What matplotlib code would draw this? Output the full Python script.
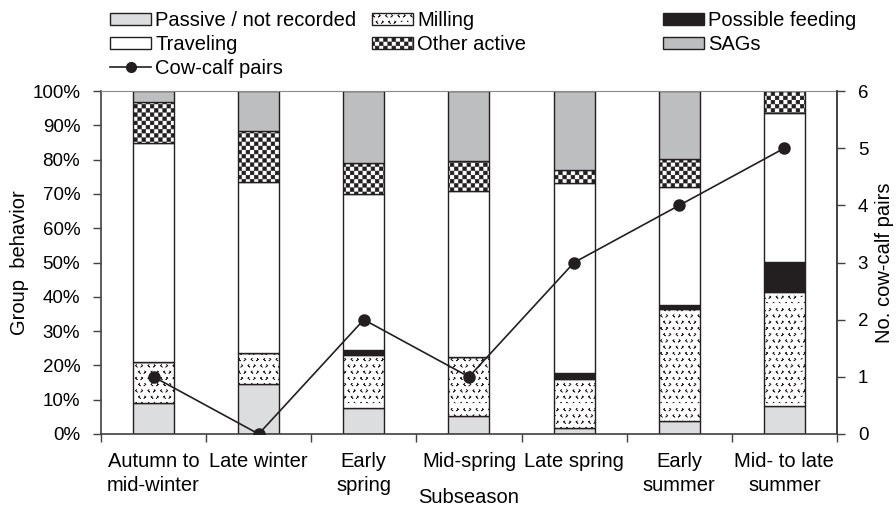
import numpy as np
import matplotlib
matplotlib.use("Agg")

import matplotlib.pyplot as plt
from matplotlib import hatch as mhatch
from matplotlib.path import Path
from matplotlib.lines import Line2D
from matplotlib.patches import Patch

subseasons = ["Autumn to\nmid-winter", "Late winter", "Early\nspring", "Mid-spring",
              "Late spring", "Early\nsummer", "Mid- to late\nsummer"]

# group behaviour, % of observations (stacked bottom -> top)
passive = [8.9, 14.6, 7.5, 5.2, 1.7, 3.9, 8.2]
milling = [12.2, 8.9, 15.5, 17.3, 14.2, 32.5, 33.3]
feeding = [0.0, 0.0, 1.5, 0.0, 2.0, 1.3, 8.6]
traveling = [63.7, 50.1, 45.5, 48.3, 55.2, 34.4, 43.6]
other_active = [12.0, 14.7, 8.9, 8.9, 3.9, 8.2, 6.3]
sags = [3.2, 11.7, 21.1, 20.3, 23.0, 19.7, 0.0]

cow_calf = [1, 0, 2, 1, 3, 4, 5]

INK = "#231f20"


class CheckerHatch(mhatch.HatchPatternBase):
    """Filled checkerboard, hooked to the 'O' hatch letter."""
    cells = 24

    def __init__(self, hatch, density):
        self.on = "O" in hatch
        self.num_vertices = (self.cells * self.cells // 2) * 5 if self.on else 0

    def set_vertices_and_codes(self, vertices, codes):
        step = 1.0 / self.cells
        side = step * 0.85
        off = (step - side) / 2
        squares = []
        for i in range(self.cells):
            for j in range(self.cells):
                if (i + j) % 2 == 0:
                    x0, y0 = i * step + off, j * step + off
                    squares.append([[x0, y0], [x0 + side, y0], [x0 + side, y0 + side],
                                    [x0, y0 + side], [x0, y0]])
        vertices[:] = np.array(squares).reshape(-1, 2)
        codes[:] = np.tile([Path.MOVETO, Path.LINETO, Path.LINETO, Path.LINETO,
                            Path.CLOSEPOLY], len(squares))


class ChevronHatch(mhatch.HatchPatternBase):
    """Small '<' / '>' marks, hooked to the '*' hatch letter."""
    cols = 16
    rows = 16

    def __init__(self, hatch, density):
        self.on = "*" in hatch
        self.num_vertices = self.cols * self.rows * 5 if self.on else 0

    def set_vertices_and_codes(self, vertices, codes):
        dx, dy = 1.0 / self.cols, 1.0 / self.rows
        w, h = 0.010, 0.016
        marks = []
        for r in range(self.rows):
            for c in range(self.cols):
                cx = (c + 0.25 + 0.5 * (r % 2)) * dx
                cy = (r + 0.5) * dy
                s = 1 if (c + r) % 2 == 0 else -1
                top = [cx + s * w / 2, cy + h / 2]
                tip = [cx - s * w / 2, cy]
                bot = [cx + s * w / 2, cy - h / 2]
                marks.append([top, tip, bot, tip, top])
        vertices[:] = np.array(marks).reshape(-1, 2)
        codes[:] = np.tile([Path.MOVETO] + [Path.LINETO] * 4, len(marks))


mhatch._hatch_types = [t for t in mhatch._hatch_types
                       if t not in (mhatch.LargeCircles, mhatch.Stars)]
mhatch._hatch_types += [CheckerHatch, ChevronHatch]

plt.rcParams["font.family"] = ["Liberation Sans", "DejaVu Sans"]
plt.rcParams["hatch.linewidth"] = 0.5

layers = [
    ("Passive / not recorded", passive, "#dcdddf", None),
    ("Milling", milling, "white", "*"),
    ("Possible feeding", feeding, INK, None),
    ("Traveling", traveling, "white", None),
    ("Other active", other_active, "white", "O"),
    ("SAGs", sags, "#bcbec0", None),
]

fig = plt.figure(figsize=(8.96, 5.11), dpi=100)
ax = fig.add_axes([0.1127, 0.1507, 0.8214, 0.6712])

x = np.arange(len(subseasons))
bottom = np.zeros(len(subseasons))
handles = {}
for label, vals, color, hatch in layers:
    vals = np.array(vals)
    ax.bar(x, vals, width=0.39, bottom=bottom, color=color, edgecolor=INK,
           linewidth=1.0, hatch=hatch, zorder=2)
    bottom += vals
    handles[label] = Patch(facecolor=color, edgecolor=INK, linewidth=1.0, hatch=hatch)

ax.set_xlim(-0.5, len(subseasons) - 0.5)
ax.set_ylim(0, 100)
ax.set_yticks(np.arange(0, 101, 10))
ax.set_yticklabels([f"{v}%" for v in range(0, 101, 10)])
ax.set_xticks(x)
ax.set_xticklabels(subseasons, fontsize=14.5, linespacing=1.3)
ax.set_xticks(np.arange(-0.5, len(subseasons)), minor=True)
ax.tick_params(axis="x", which="major", length=0, pad=13)
ax.tick_params(axis="x", which="minor", length=6, width=1.0, color="#404040")
ax.tick_params(axis="y", length=6, width=1.0, color="#404040", labelsize=13.5, pad=9)
ax.set_xlabel("Subseason", fontsize=14.5, labelpad=-5)
ax.set_ylabel("Group  behavior", fontsize=14.5, labelpad=2)
for side in ["left", "bottom", "right"]:
    ax.spines[side].set_color("#404040")
    ax.spines[side].set_linewidth(1.2)
ax.spines["top"].set_color("#8a8a8a")

ax2 = ax.twinx()
ax2.plot(x, cow_calf, color=INK, linewidth=1.2, marker="o", markersize=8, zorder=3)
ax2.set_ylim(0, 6)
ax2.set_yticks(range(0, 7))
ax2.tick_params(axis="y", length=6, width=1.0, color="#404040", labelsize=13.5, pad=9)
ax2.set_ylabel("No. cow-calf pairs", fontsize=14.5, labelpad=5)
for s in ax2.spines.values():
    s.set_visible(False)
ax2.spines["right"].set_visible(True)
ax2.spines["right"].set_color("#404040")
ax2.spines["right"].set_linewidth(1.2)

cow_handle = Line2D([], [], color=INK, linewidth=1.2, marker="o", markersize=7)
legend_cols = [
    (110, [handles["Passive / not recorded"], handles["Traveling"], cow_handle],
     ["Passive / not recorded", "Traveling", "Cow-calf pairs"]),
    (372, [handles["Milling"], handles["Other active"]], ["Milling", "Other active"]),
    (663, [handles["Possible feeding"], handles["SAGs"]], ["Possible feeding", "SAGs"]),
]
for px, hs, labels in legend_cols:
    fig.legend(hs, labels, loc="upper left", bbox_to_anchor=(px / 896, 1 - 11 / 511),
               frameon=False, fontsize=14.5, handlelength=2.05, handleheight=0.55,
               handletextpad=0.2, labelspacing=0.25, borderpad=0, borderaxespad=0)

fig.savefig("out.png", dpi=100)
